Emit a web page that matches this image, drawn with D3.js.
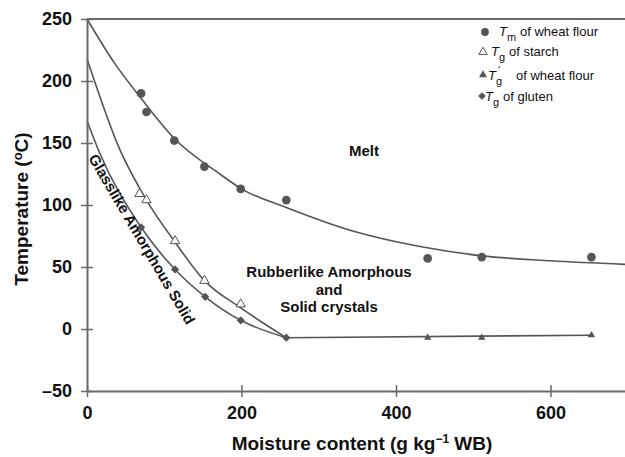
<!DOCTYPE html>
<html>
<head>
<meta charset="utf-8">
<script src="https://cdn.jsdelivr.net/npm/d3@7"></script>
<style>
  html, body { margin: 0; padding: 0; background: #fff; }
  svg { display: block; font-family: "Liberation Sans", Arial, sans-serif; }
</style>
</head>
<body>
<svg id="chart" width="625" height="457"></svg>
<script>
// Melting temperature of wheat flour
const tmMoisture = [70, 77, 113, 152, 199, 258, 441, 511, 653];
const tmTemp = [190, 175, 152, 131, 113, 104, 57, 58, 58];

// Glass transition of starch
const starchMoisture = [68, 77, 114, 152, 199];
const starchTemp = [109, 104, 71, 39, 20];

// Glass transition of gluten
const glutenMoisture = [70, 114, 153, 199, 258];
const glutenTemp = [82, 48, 26, 7, -7];

// Tg' of wheat flour (maximally freeze-concentrated)
const tgPrimeMoisture = [441, 511, 653];
const tgPrimeTemp = [-7, -7, -5];

// Fitted state-diagram boundaries (knots along each curve)
const tmCurveX = [0, 35, 70, 114, 172, 200, 258, 344, 431, 511, 600, 700];
const tmCurveY = [250, 215, 186, 153, 125, 113, 98, 79, 66.5, 59, 55, 52];
const starchCurveX = [0, 43, 77, 114, 152, 199, 258];
const starchCurveY = [218, 144, 104, 70, 39, 17, -7];
const glutenCurveX = [0, 15, 70, 114, 153, 199, 258];
const glutenCurveY = [168, 144, 82, 48, 26, 7, -7];
const tgPrimeCurveX = [258, 653];
const tgPrimeCurveY = [-7, -5];

// Axis ticks
const xTicks = [0, 200, 400, 600];
const yTicks = [-50, 0, 50, 100, 150, 200, 250];

const svg = d3.select("#chart");
const ink = "#555";
const axisColor = "#6a6a6a";
const textColor = "#111";

const x = d3.scaleLinear().domain([0, 700]).range([87, 627.75]);
const y = d3.scaleLinear().domain([-50, 250]).range([391, 19]);

const fmt = d => d < 0 ? "\u2013" + Math.abs(d) : String(d);

// Curves
const zip = (xs, ys) => xs.map((v, i) => [v, ys[i]]);
const line = d3.line().x(d => x(d[0])).y(d => y(d[1])).curve(d3.curveMonotoneX);

const curves = svg.append("g").attr("fill", "none").attr("stroke", ink).attr("stroke-width", 1.6);
[[tmCurveX, tmCurveY], [starchCurveX, starchCurveY], [glutenCurveX, glutenCurveY], [tgPrimeCurveX, tgPrimeCurveY]]
  .forEach(([xs, ys]) => curves.append("path").attr("d", line(zip(xs, ys))));

// Top frame line
svg.append("line")
  .attr("x1", x(0)).attr("x2", x(700)).attr("y1", y(250)).attr("y2", y(250))
  .attr("stroke", axisColor).attr("stroke-width", 2);

// Axes
const yAxis = svg.append("g")
  .attr("transform", `translate(${x(0)},0)`)
  .call(d3.axisLeft(y).tickValues(yTicks).tickFormat(fmt).tickSize(6).tickSizeOuter(0).tickPadding(9));
const xAxis = svg.append("g")
  .attr("transform", `translate(0,${y(-50)})`)
  .call(d3.axisBottom(x).tickValues(xTicks).tickFormat(fmt).tickSize(6).tickSizeOuter(0).tickPadding(9));

yAxis.selectAll(".tick line").attr("x1", 6);
xAxis.selectAll(".tick line").attr("y1", -6);
[yAxis, xAxis].forEach(a => {
  a.select(".domain").attr("stroke", axisColor).attr("stroke-width", 2);
  a.selectAll(".tick line").attr("stroke", axisColor).attr("stroke-width", 1.5);
  a.selectAll(".tick text")
    .attr("fill", textColor)
    .style("font-family", "'Liberation Sans', Arial, sans-serif")
    .style("font-size", "18px").style("font-weight", "bold");
});

// Markers
const sym = (type, size) => d3.symbol().type(type).size(size)();
const marks = svg.append("g");

marks.selectAll(".tm").data(zip(tmMoisture, tmTemp)).join("path")
  .attr("d", sym(d3.symbolCircle, 60))
  .attr("transform", d => `translate(${x(d[0])},${y(d[1])})`)
  .attr("fill", ink);

marks.selectAll(".starch").data(zip(starchMoisture, starchTemp)).join("path")
  .attr("d", sym(d3.symbolTriangle, 38))
  .attr("transform", d => `translate(${x(d[0])},${y(d[1])})`)
  .attr("fill", "#fff").attr("stroke", ink).attr("stroke-width", 1);

marks.selectAll(".gluten").data(zip(glutenMoisture, glutenTemp)).join("path")
  .attr("d", sym(d3.symbolSquare, 34))
  .attr("transform", d => `translate(${x(d[0])},${y(d[1])}) rotate(45)`)
  .attr("fill", ink);

marks.selectAll(".tgp").data(zip(tgPrimeMoisture, tgPrimeTemp)).join("path")
  .attr("d", sym(d3.symbolTriangle, 24))
  .attr("transform", d => `translate(${x(d[0])},${y(d[1])})`)
  .attr("fill", ink);

// Axis titles
svg.append("text")
  .attr("x", 362).attr("y", 450)
  .attr("text-anchor", "middle")
  .attr("fill", textColor)
  .style("font-size", "19px").style("font-weight", "bold")
  .call(t => {
    t.append("tspan").text("Moisture content (g kg");
    t.append("tspan").attr("dy", -7).style("font-size", "12px").text("\u22121");
    t.append("tspan").attr("dy", 7).text(" WB)");
  });

svg.append("text")
  .attr("transform", "translate(28,209) rotate(-90)")
  .attr("text-anchor", "middle")
  .attr("fill", textColor)
  .style("font-size", "19px").style("font-weight", "bold")
  .call(t => {
    t.append("tspan").text("Temperature (");
    t.append("tspan").attr("dy", -6).style("font-size", "13px").text("o");
    t.append("tspan").attr("dy", 6).text("C)");
  });

// Region annotations
const note = svg.append("g").attr("fill", textColor)
  .style("font-size", "15px").style("font-weight", "bold");
note.append("text").attr("x", 349).attr("y", 156).text("Melt");
note.append("text").attr("x", 329).attr("y", 277).attr("text-anchor", "middle").text("Rubberlike Amorphous");
note.append("text").attr("x", 329).attr("y", 295).attr("text-anchor", "middle").text("and");
note.append("text").attr("x", 329).attr("y", 312).attr("text-anchor", "middle").text("Solid crystals");
note.append("text").attr("transform", "translate(88,158) rotate(59.5)").text("Glasslike Amorphous Solid");

// Legend
const legend = svg.append("g").attr("fill", textColor).style("font-size", "13px");
const legendRows = [
  { mx: 485, my: 32, tx: 499, by: 36, sub: "m", prime: false, label: "of wheat flour", lx: 520 },
  { mx: 483, my: 52, tx: 491, by: 56, sub: "g", prime: false, label: "of starch", lx: 509 },
  { mx: 483, my: 75, tx: 488, by: 80, sub: "g", prime: true, label: "of wheat flour", lx: 516 },
  { mx: 482, my: 96, tx: 485, by: 101, sub: "g", prime: false, label: "of gluten", lx: 503 }
];
const legendSymbols = [
  { type: d3.symbolCircle, size: 48, fill: ink, stroke: "none", rot: 0 },
  { type: d3.symbolTriangle, size: 30, fill: "#fff", stroke: ink, rot: 0 },
  { type: d3.symbolTriangle, size: 28, fill: ink, stroke: "none", rot: 0 },
  { type: d3.symbolSquare, size: 30, fill: ink, stroke: "none", rot: 45 }
];
legendRows.forEach((r, i) => {
  const s = legendSymbols[i];
  legend.append("path")
    .attr("d", sym(s.type, s.size))
    .attr("transform", `translate(${r.mx},${r.my}) rotate(${s.rot})`)
    .attr("fill", s.fill).attr("stroke", s.stroke);
  const t = legend.append("text").attr("x", r.tx).attr("y", r.by);
  t.append("tspan").style("font-style", "italic").text("T");
  t.append("tspan").attr("dy", 5).style("font-size", "11px").text(r.sub);
  if (r.prime) {
    t.append("tspan").attr("x", r.tx + 10).attr("dy", -11).style("font-size", "10px").text("\u2032");
    t.append("tspan").attr("x", r.lx).attr("dy", 6).text(r.label);
  } else {
    t.append("tspan").attr("x", r.lx).attr("dy", -5).text(r.label);
  }
});
</script>
</body>
</html>
